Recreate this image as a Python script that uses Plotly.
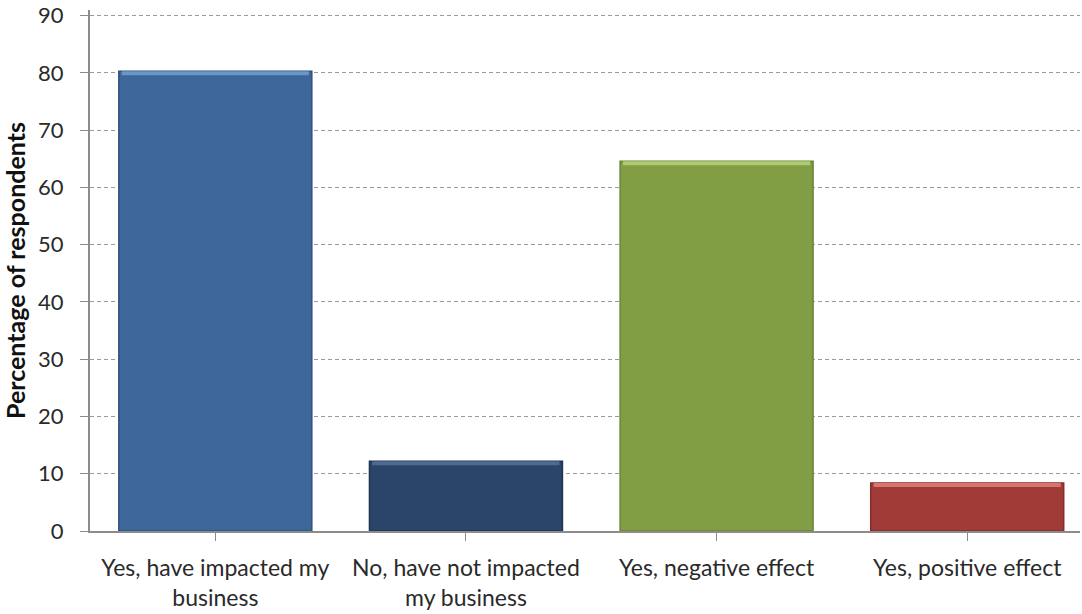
import plotly.graph_objects as go

# Survey responses: share of respondents per answer
categories = [
    "Yes, have impacted my<br>business",
    "No, have not impacted<br>my business",
    "Yes, negative effect",
    "Yes, positive effect",
]
percentages = [80.3, 12.2, 64.6, 8.4]
bar_colors = ["#3D6699", "#2B4568", "#819E45", "#A03B38"]
edge_colors = ["#2F527F", "#1F3450", "#6A8535", "#842D2B"]
highlight_colors = ["#6E95C8", "#4E6A93", "#AFCB72", "#D77470"]
y_ticks = [0, 10, 20, 30, 40, 50, 60, 70, 80, 90]

font_family = "Lato, Open Sans, sans-serif"
text_color = "#2A2A2A"
bar_width = 0.77
x_pos = list(range(len(categories)))

fig = go.Figure()

fig.add_trace(
    go.Bar(
        x=x_pos,
        y=percentages,
        width=bar_width,
        marker=dict(color=bar_colors, line=dict(color=edge_colors, width=1.5)),
        hoverinfo="skip",
    )
)

# Thin lighter strip along the top of each bar for a bevelled look
strip = 0.7
fig.add_trace(
    go.Bar(
        x=x_pos,
        y=[strip] * len(percentages),
        base=[v - strip for v in percentages],
        width=bar_width * 0.97,
        marker=dict(color=highlight_colors, line=dict(width=0)),
        hoverinfo="skip",
    )
)

fig.update_layout(
    width=1082,
    height=614,
    barmode="overlay",
    margin=dict(l=90, r=2, t=10, b=83),
    paper_bgcolor="white",
    plot_bgcolor="white",
    showlegend=False,
    font=dict(family=font_family, size=23, color=text_color),
)

fig.update_xaxes(
    tickmode="array",
    tickvals=x_pos,
    ticktext=categories,
    range=[-0.5, 3.45],
    showline=True,
    linecolor="#8C8C8C",
    linewidth=2,
    ticks="outside",
    tickson="boundaries",
    ticklen=8,
    tickcolor="#8C8C8C",
    tickwidth=1,
    showgrid=False,
    ticklabelstandoff=7,
    tickfont=dict(size=23, color=text_color),
)

fig.update_yaxes(
    range=[0, 91],
    tickmode="array",
    tickvals=y_ticks,
    showline=True,
    linecolor="#8C8C8C",
    linewidth=2,
    ticks="outside",
    ticklen=8,
    tickcolor="#8C8C8C",
    showgrid=True,
    gridcolor="#9A9A9A",
    gridwidth=1,
    griddash="4px,3px",
    zeroline=False,
    ticklabelstandoff=12,
    tickfont=dict(size=22, color=text_color),
    title=dict(
        text="<b>Percentage of respondents</b>",
        font=dict(size=25, color="#111111"),
        standoff=6,
    ),
)

fig.write_html("out.html")
